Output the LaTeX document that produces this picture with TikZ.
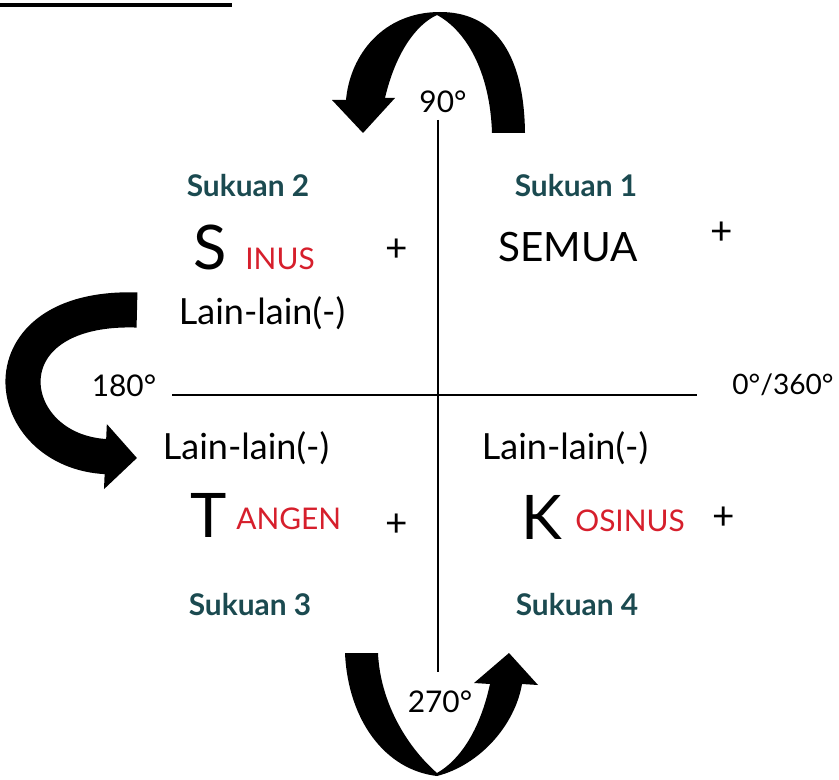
\documentclass[tikz,border=0pt]{standalone}
\usepackage{fontspec}
\setmainfont{Lato}
\usetikzlibrary{arrows.meta}
\usepackage{xcolor}
\definecolor{sukuan}{HTML}{1B4A50}
\definecolor{redword}{HTML}{D61F2C}

\begin{document}
\begin{tikzpicture}[x=0.02cm, y=-0.02cm,
    deg/.style={font=\fontsize{17}{20}\selectfont, inner sep=0pt},
    quad/.style={font=\bfseries\fontsize{17}{20}\selectfont, text=sukuan, inner sep=0pt},
    other/.style={font=\fontsize{20.5}{24}\selectfont, inner sep=0pt, anchor=base},
    bigletter/.style={font=\fontsize{35}{40}\selectfont, inner sep=0pt, anchor=base west},
    redrest/.style={font=\fontsize{17}{20}\selectfont, text=redword, inner sep=0pt, anchor=base west},
    sign/.style={font=\fontsize{22}{24}\selectfont, inner sep=0pt},
    bigarrow/.style={line width=20pt, -{Triangle[width=36pt, length=18pt]}},
    turnshape/.style={fill=black}]
    \useasboundingbox (0,0) rectangle (839,780);
    \clip (0,0) rectangle (839,780);

    % Underline of the cut-off title
    \fill (0,3) rectangle (232,7);

    % Turning arrows
    \fill[turnshape] (525,133) .. controls (524,50) and (492,12) .. (440,12)
        .. controls (383,12) and (350,55) .. (346,100)
        -- (332,100) -- (363,133) -- (395,98) -- (385,98)
        .. controls (395,55) and (415,25) .. (437,15)
        .. controls (465,30) and (490,70) .. (492,133) -- cycle;
    \draw[bigarrow] (137,310) .. controls (-20,305) and (0,452) .. (137,458);
    \fill[turnshape] (345,653) .. controls (348,720) and (385,770) .. (437,776)
        .. controls (480,765) and (515,725) .. (522,684)
        -- (538,685) -- (509,653) -- (474,683) -- (490,684)
        .. controls (480,730) and (460,760) .. (437,773)
        .. controls (405,745) and (380,700) .. (378,653) -- cycle;

    % Angle labels
    \node[deg] (d90) at (443,102) {90°};
    \node[deg] (d180) at (124,386) {180°};
    \node[deg, font=\fontsize{16}{19}\selectfont] (d0) at (783,385) {0°/360°};
    \node[deg] (d270) at (440,702) {270°};

    % Axes
    \coordinate (ytop) at (438,120);
    \coordinate (ybot) at (438,672);
    \coordinate (xleft) at (172,395);
    \coordinate (xright) at (697,395);
    \draw[line width=0.9pt] (ytop) -- (ybot);
    \draw[line width=0.9pt] (xleft) -- (xright);

    % Quadrant names
    \node[quad] (suk1) at (576,186) {Sukuan 1};
    \node[quad] (suk2) at (248,186) {Sukuan 2};
    \node[quad] (suk3) at (250,605) {Sukuan 3};
    \node[quad] (suk4) at (577,605) {Sukuan 4};

    % Quadrant 1
    \node[other] (semua) at (568,262) {\fontsize{23}{26}\selectfont SEMUA};
    \node[sign] (plus1) at (722,233) {+};

    % Quadrant 2
    \node[bigletter] (sinS) at (193,270) {S};
    \node[redrest] (sinRest) at (245,270) {INUS};
    \node[sign] (plus2) at (397,250) {+};
    \node[other] (other2) at (262,325) {Lain-lain(-)};

    % Quadrant 3
    \node[other] (other3) at (246,460) {Lain-lain(-)};
    \node[bigletter] (tanT) at (190,538) {T};
    \node[redrest] (tanRest) at (236,530) {ANGEN};
    \node[sign] (plus3) at (397,525) {+};

    % Quadrant 4
    \node[other] (other4) at (565,460) {Lain-lain(-)};
    \node[bigletter] (kosK) at (521,540) {K};
    \node[redrest] (kosRest) at (575,532) {OSINUS};
    \node[sign] (plus4) at (724,518) {+};
\end{tikzpicture}
\end{document}
